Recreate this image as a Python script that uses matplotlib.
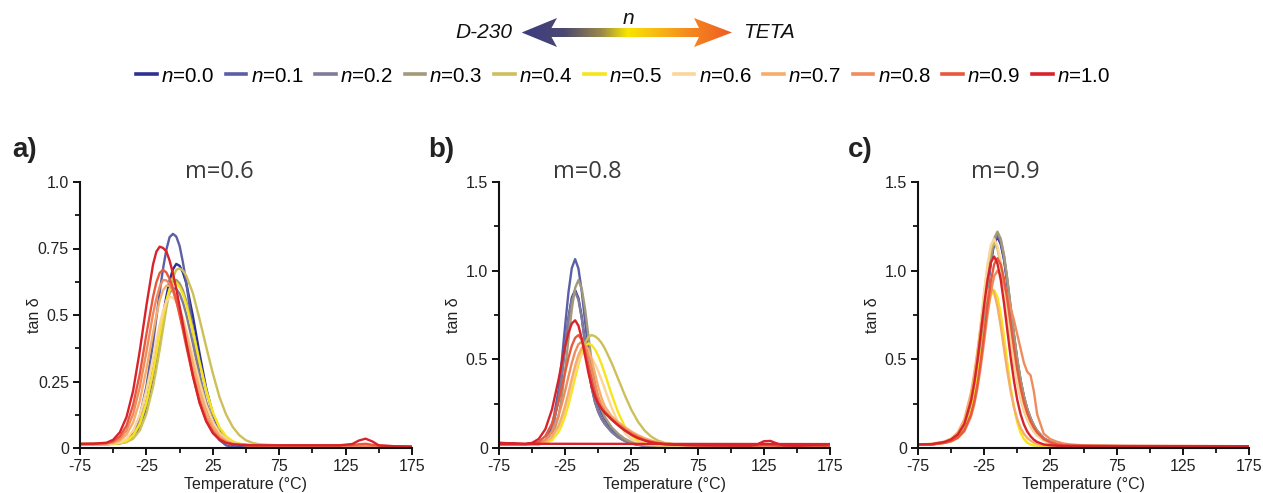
import matplotlib
matplotlib.use("Agg")
import numpy as np
import matplotlib.pyplot as plt
from matplotlib.colors import LinearSegmentedColormap
from matplotlib.patches import Polygon
from matplotlib.lines import Line2D

plt.rcParams['font.family'] = ['Liberation Sans', 'DejaVu Sans']
plt.rcParams['mathtext.fontset'] = 'custom'
plt.rcParams['mathtext.rm'] = 'Liberation Sans'
plt.rcParams['mathtext.it'] = 'Liberation Sans:italic'

# ---------------- data ----------------
n_values = ['0.0', '0.1', '0.2', '0.3', '0.4', '0.5', '0.6', '0.7', '0.8', '0.9', '1.0']
n_colors = ['#2e3192', '#5c5fa5', '#7f7b99', '#a39a7c', '#cdbf5a', '#f6e51b',
            '#fbd59a', '#f6ad6b', '#f08b5e', '#e8583c', '#d9232b']

x_ticks = [-75, -25, 25, 75, 125, 175]
x_minor = [-50, 0, 50, 100, 150]

# m = 0.6
temp_a = [-75, -65, -55, -50, -45, -40, -35, -30, -25, -20, -17.5, -15, -12.5, -10, -7.5, -5, -2.5,
          0, 2.5, 5, 10, 15, 20, 25, 30, 35, 40, 45, 50, 55, 60, 70, 80, 100, 120, 130, 135, 140,
          145, 150, 160, 175]
m06_n00 = [0.015, 0.015, 0.015, 0.016, 0.018, 0.024, 0.041, 0.078, 0.152, 0.267,
           0.34, 0.419, 0.496, 0.569, 0.63, 0.672, 0.692, 0.685, 0.66, 0.62,
           0.496, 0.356, 0.225, 0.128, 0.064, 0.029, 0.011, 0.004,
           0.002, 0.002, 0.002, 0.002, 0.002, 0.002, 0.002, 0.002, 0.002, 0.002, 0.002, 0.002, 0.002, 0.002]
m06_n01 = [0.015, 0.015, 0.015, 0.016, 0.019, 0.03, 0.057, 0.119, 0.231, 0.395,
           0.489, 0.586, 0.673, 0.745, 0.793, 0.805, 0.795, 0.76, 0.698, 0.622,
           0.445, 0.278, 0.152, 0.072, 0.03, 0.01, 0.004, 0.002,
           0.002, 0.002, 0.002, 0.002, 0.002, 0.002, 0.002, 0.002, 0.002, 0.002, 0.002, 0.002, 0.002, 0.002]
m06_n02 = [0.015, 0.015, 0.015, 0.016, 0.019, 0.028, 0.05, 0.095, 0.174, 0.292,
           0.359, 0.426, 0.491, 0.546, 0.584, 0.60, 0.598, 0.58, 0.547, 0.503,
           0.393, 0.273, 0.174, 0.101, 0.055, 0.03, 0.018, 0.013,
           0.011, 0.01, 0.01, 0.01, 0.009, 0.009, 0.008, 0.008, 0.008, 0.008, 0.007, 0.007, 0.006, 0.005]
m06_n03 = [0.015, 0.015, 0.015, 0.016, 0.018, 0.026, 0.045, 0.086, 0.164, 0.278,
           0.348, 0.421, 0.49, 0.551, 0.599, 0.625, 0.632, 0.619, 0.593, 0.552,
           0.446, 0.326, 0.217, 0.13, 0.074, 0.041, 0.023, 0.015,
           0.012, 0.011, 0.01, 0.01, 0.009, 0.009, 0.008, 0.008, 0.008, 0.008, 0.007, 0.007, 0.006, 0.005]
m06_n04 = [0.015, 0.015, 0.015, 0.015, 0.017, 0.022, 0.035, 0.066, 0.129, 0.231,
           0.298, 0.37, 0.449, 0.525, 0.59, 0.64, 0.67, 0.675, 0.667, 0.648,
           0.582, 0.485, 0.381, 0.281, 0.192, 0.126, 0.079, 0.048,
           0.029, 0.019, 0.014, 0.011, 0.01, 0.009, 0.008, 0.008, 0.008, 0.008, 0.007, 0.007, 0.006, 0.005]
m06_n05 = [0.015, 0.015, 0.015, 0.016, 0.019, 0.027, 0.047, 0.091, 0.171, 0.287,
           0.356, 0.427, 0.495, 0.553, 0.597, 0.615, 0.62, 0.605, 0.579, 0.54,
           0.439, 0.321, 0.217, 0.135, 0.078, 0.044, 0.025, 0.016,
           0.013, 0.011, 0.01, 0.01, 0.009, 0.009, 0.008, 0.008, 0.008, 0.008, 0.007, 0.007, 0.006, 0.005]
m06_n06 = [0.015, 0.015, 0.015, 0.017, 0.022, 0.035, 0.065, 0.123, 0.217, 0.338,
           0.403, 0.464, 0.515, 0.55, 0.568, 0.565, 0.549, 0.524, 0.488, 0.445,
           0.347, 0.249, 0.162, 0.099, 0.058, 0.033, 0.02, 0.014,
           0.012, 0.011, 0.01, 0.01, 0.009, 0.009, 0.008, 0.008, 0.008, 0.008, 0.007, 0.007, 0.006, 0.005]
m06_n07 = [0.015, 0.015, 0.016, 0.019, 0.028, 0.05, 0.096, 0.177, 0.296, 0.433,
           0.499, 0.555, 0.593, 0.61, 0.61, 0.593, 0.565, 0.526, 0.48, 0.428,
           0.32, 0.22, 0.138, 0.082, 0.047, 0.027, 0.017, 0.013,
           0.011, 0.01, 0.01, 0.01, 0.009, 0.009, 0.008, 0.008, 0.008, 0.008, 0.007, 0.007, 0.006, 0.005]
m06_n08 = [0.015, 0.015, 0.017, 0.022, 0.035, 0.066, 0.127, 0.228, 0.361, 0.504,
           0.562, 0.606, 0.632, 0.63, 0.617, 0.59, 0.553, 0.506, 0.454, 0.398,
           0.287, 0.189, 0.116, 0.068, 0.039, 0.023, 0.015, 0.012,
           0.011, 0.01, 0.01, 0.01, 0.009, 0.009, 0.008, 0.008, 0.008, 0.008, 0.007, 0.007, 0.006, 0.005]
m06_n09 = [0.015, 0.015, 0.018, 0.025, 0.044, 0.084, 0.162, 0.278, 0.428, 0.568,
           0.623, 0.658, 0.67, 0.66, 0.636, 0.60, 0.555, 0.50, 0.443, 0.383,
           0.27, 0.173, 0.104, 0.06, 0.034, 0.02, 0.014, 0.012,
           0.011, 0.01, 0.01, 0.01, 0.01, 0.01, 0.01, 0.011, 0.014, 0.016, 0.012, 0.009, 0.007, 0.005]
m06_n10 = [0.015, 0.016, 0.02, 0.031, 0.059, 0.116, 0.215, 0.365, 0.535, 0.69,
           0.738, 0.757, 0.752, 0.74, 0.704, 0.656, 0.598, 0.533, 0.465, 0.397,
           0.272, 0.17, 0.10, 0.056, 0.031, 0.019, 0.014, 0.012,
           0.011, 0.01, 0.01, 0.01, 0.01, 0.01, 0.01, 0.015, 0.028, 0.035, 0.025, 0.01, 0.007, 0.005]

# m = 0.8
temp_b = [-75, -65, -55, -50, -45, -40, -35, -30, -27.5, -25, -22.5, -20, -17.5, -15, -12.5, -10,
          -7.5, -5, -2.5, 0, 2.5, 5, 10, 15, 20, 25, 30, 35, 40, 45, 50, 60, 70, 80, 100,
          115, 120, 125, 130, 135, 140, 150, 175]
m08_n00 = [0.02, 0.02, 0.02, 0.02, 0.022, 0.037, 0.10, 0.277, 0.418, 0.58, 0.736, 0.848, 0.89, 0.845,
           0.738, 0.597, 0.458, 0.344, 0.261, 0.205, 0.165, 0.136, 0.092, 0.061, 0.04, 0.026, 0.018,
           0.014, 0.012, 0.011, 0.01, 0.01, 0.01, 0.01, 0.01, 0.01, 0.01, 0.01, 0.01, 0.01, 0.01, 0.01, 0.01]
m08_n01 = [0.02, 0.02, 0.02, 0.02, 0.023, 0.04, 0.116, 0.328, 0.499, 0.693, 0.88, 1.015, 1.065, 1.012,
           0.883, 0.714, 0.547, 0.41, 0.311, 0.243, 0.196, 0.16, 0.108, 0.072, 0.046, 0.029, 0.019,
           0.014, 0.012, 0.011, 0.01, 0.01, 0.01, 0.01, 0.01, 0.01, 0.01, 0.01, 0.01, 0.01, 0.01, 0.01, 0.01]
m08_n02 = [0.02, 0.02, 0.02, 0.02, 0.022, 0.037, 0.099, 0.274, 0.414, 0.574, 0.728, 0.839, 0.88, 0.836,
           0.73, 0.59, 0.453, 0.34, 0.258, 0.203, 0.163, 0.135, 0.091, 0.06, 0.04, 0.026, 0.018,
           0.014, 0.012, 0.011, 0.01, 0.01, 0.01, 0.01, 0.01, 0.01, 0.01, 0.01, 0.01, 0.01, 0.01, 0.01, 0.01]
m08_n03 = [0.02, 0.02, 0.02, 0.02, 0.021, 0.027, 0.061, 0.179, 0.293, 0.445, 0.617, 0.783, 0.903, 0.947,
           0.899, 0.785, 0.635, 0.487, 0.365, 0.277, 0.217, 0.174, 0.118, 0.08, 0.052, 0.034, 0.022,
           0.016, 0.013, 0.011, 0.01, 0.01, 0.01, 0.01, 0.01, 0.01, 0.01, 0.01, 0.01, 0.01, 0.01, 0.01, 0.01]
m08_n04 = [0.02, 0.02, 0.02, 0.022, 0.025, 0.037, 0.063, 0.117, 0.158, 0.209, 0.269, 0.337, 0.409, 0.479,
           0.543, 0.593, 0.626, 0.637, 0.63, 0.615, 0.592, 0.56, 0.481, 0.39, 0.298, 0.215, 0.148,
           0.098, 0.064, 0.042, 0.029, 0.018, 0.015, 0.014, 0.013, 0.012, 0.012, 0.012, 0.012, 0.012,
           0.012, 0.012, 0.01]
m08_n05 = [0.02, 0.02, 0.02, 0.02, 0.022, 0.027, 0.045, 0.09, 0.129, 0.181, 0.245, 0.319, 0.397, 0.472,
           0.534, 0.575, 0.59, 0.58, 0.556, 0.519, 0.472, 0.418, 0.303, 0.2, 0.121, 0.07, 0.04,
           0.025, 0.019, 0.016, 0.015, 0.014, 0.013, 0.013, 0.012, 0.012, 0.012, 0.012, 0.012, 0.012,
           0.012, 0.011, 0.01]
m08_n06 = [0.02, 0.02, 0.02, 0.021, 0.023, 0.032, 0.059, 0.119, 0.167, 0.225, 0.292, 0.364, 0.432, 0.489,
           0.526, 0.54, 0.53, 0.508, 0.474, 0.432, 0.383, 0.331, 0.229, 0.144, 0.085, 0.049, 0.03,
           0.021, 0.017, 0.016, 0.015, 0.014, 0.013, 0.013, 0.012, 0.012, 0.012, 0.012, 0.012, 0.012,
           0.012, 0.011, 0.01]
m08_n07 = [0.02, 0.02, 0.02, 0.021, 0.024, 0.033, 0.062, 0.127, 0.178, 0.241, 0.313, 0.391, 0.464, 0.525,
           0.565, 0.58, 0.556, 0.497, 0.42, 0.343, 0.28, 0.234, 0.18, 0.146, 0.118, 0.093, 0.072,
           0.055, 0.042, 0.032, 0.026, 0.019, 0.016, 0.015, 0.014, 0.013, 0.013, 0.013, 0.013, 0.013,
           0.013, 0.013, 0.012]
m08_n08 = [0.02, 0.02, 0.02, 0.022, 0.027, 0.046, 0.091, 0.184, 0.249, 0.324, 0.404, 0.48, 0.543, 0.585,
           0.60, 0.575, 0.514, 0.434, 0.355, 0.289, 0.242, 0.209, 0.167, 0.137, 0.109, 0.084, 0.064,
           0.048, 0.037, 0.029, 0.023, 0.018, 0.016, 0.015, 0.014, 0.013, 0.013, 0.013, 0.013, 0.013,
           0.013, 0.013, 0.012]
m08_n09 = [0.02, 0.02, 0.021, 0.024, 0.035, 0.067, 0.138, 0.264, 0.343, 0.428, 0.509, 0.577, 0.621, 0.637,
           0.611, 0.546, 0.461, 0.377, 0.307, 0.257, 0.221, 0.197, 0.16, 0.129, 0.101, 0.078, 0.059,
           0.044, 0.034, 0.027, 0.022, 0.018, 0.016, 0.015, 0.014, 0.013, 0.014, 0.018, 0.016, 0.013,
           0.013, 0.012, 0.012]
# the n = 1.0 record closes back to its starting temperature
temp_b_n10 = temp_b + [-75]
m08_n10 = [0.03, 0.025, 0.022, 0.029, 0.051, 0.106, 0.217, 0.387, 0.483, 0.575, 0.651, 0.702, 0.72, 0.69,
           0.617, 0.52, 0.425, 0.346, 0.289, 0.249, 0.221, 0.199, 0.162, 0.128, 0.099, 0.074, 0.055,
           0.042, 0.032, 0.025, 0.021, 0.018, 0.016, 0.015, 0.014, 0.014, 0.02, 0.038, 0.04, 0.025,
           0.015, 0.013, 0.022, 0.024]

# m = 0.9
temp_c = [-75, -65, -55, -50, -45, -40, -35, -32.5, -30, -27.5, -25, -22.5, -20, -17.5, -15, -12.5,
          -10, -7.5, -5, -2.5, 0, 2.5, 5, 7.5, 10, 12.5, 15, 20, 25, 30, 35, 40, 50, 60, 80, 100,
          125, 150, 175]
m09_n00 = [0.02, 0.02, 0.031, 0.041, 0.063, 0.109, 0.207, 0.29, 0.404, 0.549, 0.717, 0.892, 1.045, 1.153,
           1.19, 1.149, 1.06, 0.927, 0.775, 0.625, 0.486, 0.375, 0.286, 0.217, 0.165, 0.125, 0.095,
           0.054, 0.033, 0.021, 0.015, 0.012, 0.011, 0.01, 0.01, 0.01, 0.01, 0.009, 0.009]
m09_n01 = [0.02, 0.02, 0.031, 0.042, 0.063, 0.109, 0.209, 0.292, 0.407, 0.553, 0.723, 0.899, 1.054, 1.163,
           1.20, 1.16, 1.07, 0.935, 0.78, 0.63, 0.49, 0.378, 0.288, 0.218, 0.166, 0.126, 0.095,
           0.054, 0.033, 0.021, 0.015, 0.012, 0.011, 0.011, 0.01, 0.01, 0.01, 0.01, 0.009]
m09_n02 = [0.02, 0.02, 0.031, 0.041, 0.064, 0.11, 0.21, 0.295, 0.41, 0.558, 0.729, 0.907, 1.062, 1.172,
           1.21, 1.169, 1.079, 0.943, 0.788, 0.636, 0.496, 0.382, 0.29, 0.22, 0.168, 0.127, 0.096,
           0.055, 0.034, 0.022, 0.016, 0.013, 0.012, 0.011, 0.01, 0.01, 0.009, 0.008, 0.008]
m09_n03 = [0.02, 0.02, 0.031, 0.042, 0.064, 0.111, 0.212, 0.297, 0.414, 0.562, 0.735, 0.914, 1.071, 1.182,
           1.22, 1.18, 1.088, 0.952, 0.796, 0.643, 0.50, 0.385, 0.293, 0.222, 0.169, 0.128, 0.097,
           0.055, 0.034, 0.022, 0.016, 0.013, 0.012, 0.011, 0.01, 0.01, 0.009, 0.008, 0.008]
m09_n04 = [0.02, 0.021, 0.035, 0.05, 0.08, 0.144, 0.283, 0.394, 0.535, 0.699, 0.869, 1.019, 1.124, 1.16,
           1.122, 1.034, 0.905, 0.757, 0.611, 0.478, 0.367, 0.279, 0.212, 0.161, 0.123, 0.093, 0.071,
           0.042, 0.026, 0.017, 0.014, 0.013, 0.012, 0.011, 0.01, 0.01, 0.01, 0.009, 0.009]
m09_n05 = [0.02, 0.02, 0.029, 0.037, 0.057, 0.101, 0.204, 0.289, 0.398, 0.525, 0.659, 0.778, 0.86, 0.89,
           0.85, 0.758, 0.627, 0.481, 0.343, 0.229, 0.143, 0.086, 0.05, 0.03, 0.02, 0.015, 0.013,
           0.012, 0.011, 0.011, 0.011, 0.01, 0.01, 0.01, 0.01, 0.01, 0.009, 0.009, 0.009]
m09_n06 = [0.02, 0.021, 0.035, 0.051, 0.081, 0.146, 0.288, 0.401, 0.544, 0.711, 0.884, 1.036, 1.143, 1.18,
           1.141, 1.052, 0.92, 0.77, 0.621, 0.486, 0.373, 0.284, 0.215, 0.164, 0.125, 0.094, 0.072,
           0.043, 0.026, 0.017, 0.014, 0.013, 0.012, 0.011, 0.01, 0.01, 0.01, 0.009, 0.009]
m09_n07 = [0.02, 0.024, 0.036, 0.053, 0.088, 0.162, 0.312, 0.422, 0.55, 0.683, 0.80, 0.882, 0.91, 0.876,
           0.798, 0.686, 0.557, 0.431, 0.319, 0.23, 0.162, 0.113, 0.08, 0.057, 0.041, 0.031, 0.024,
           0.016, 0.013, 0.012, 0.011, 0.011, 0.01, 0.01, 0.01, 0.01, 0.009, 0.009, 0.009]
m09_n08 = [0.02, 0.02, 0.029, 0.038, 0.056, 0.094, 0.177, 0.246, 0.341, 0.463, 0.604, 0.75, 0.878, 0.969,
           1.0, 0.975, 0.92, 0.86, 0.79, 0.72, 0.64, 0.56, 0.48, 0.43, 0.41, 0.32, 0.19,
           0.08, 0.05, 0.035, 0.025, 0.02, 0.015, 0.014, 0.013, 0.012, 0.012, 0.011, 0.01]
m09_n09 = [0.02, 0.02, 0.029, 0.039, 0.059, 0.10, 0.188, 0.263, 0.364, 0.495, 0.646, 0.802, 0.94, 1.036,
           1.07, 1.035, 0.954, 0.835, 0.699, 0.564, 0.441, 0.339, 0.258, 0.196, 0.15, 0.114, 0.087,
           0.05, 0.031, 0.02, 0.015, 0.013, 0.012, 0.012, 0.011, 0.011, 0.01, 0.01, 0.01]
m09_n10 = [0.02, 0.021, 0.034, 0.048, 0.076, 0.136, 0.265, 0.368, 0.499, 0.652, 0.81, 0.949, 1.046, 1.08,
           1.04, 0.948, 0.814, 0.661, 0.51, 0.378, 0.27, 0.19, 0.133, 0.093, 0.066, 0.047, 0.034,
           0.02, 0.016, 0.013, 0.012, 0.012, 0.011, 0.01, 0.01, 0.01, 0.01, 0.01, 0.01]

panels = [
    dict(title='m=0.6', letter='a)', ymax=1.0,
         yticks=[0, 0.25, 0.5, 0.75, 1.0], ylabels=['0', '0.25', '0.5', '0.75', '1.0'],
         yminor=[0.125, 0.375, 0.625, 0.875],
         temps=[temp_a] * 11,
         series=[m06_n00, m06_n01, m06_n02, m06_n03, m06_n04, m06_n05,
                 m06_n06, m06_n07, m06_n08, m06_n09, m06_n10]),
    dict(title='m=0.8', letter='b)', ymax=1.5,
         yticks=[0, 0.5, 1.0, 1.5], ylabels=['0', '0.5', '1.0', '1.5'],
         yminor=[0.25, 0.75, 1.25],
         temps=[temp_b] * 10 + [temp_b_n10],
         series=[m08_n00, m08_n01, m08_n02, m08_n03, m08_n04, m08_n05,
                 m08_n06, m08_n07, m08_n08, m08_n09, m08_n10]),
    dict(title='m=0.9', letter='c)', ymax=1.5,
         yticks=[0, 0.5, 1.0, 1.5], ylabels=['0', '0.5', '1.0', '1.5'],
         yminor=[0.25, 0.75, 1.25],
         temps=[temp_c] * 11,
         series=[m09_n00, m09_n01, m09_n02, m09_n03, m09_n04, m09_n05,
                 m09_n06, m09_n07, m09_n08, m09_n09, m09_n10]),
]

# ---------------- figure ----------------
W, H = 1263, 493
fig = plt.figure(figsize=(W / 100, H / 100), dpi=100)


def px_axes(left, top, right, bottom):
    return fig.add_axes([left / W, 1 - bottom / H, (right - left) / W, (bottom - top) / H])


axes_px = [(80, 182, 412, 448), (499, 182, 830, 448), (918, 182, 1249, 448)]
title_x = [219, 587, 1005]
letter_x = [12, 428, 848]

handles = []
for k, (panel, box) in enumerate(zip(panels, axes_px)):
    ax = px_axes(*box)
    for i in range(11):
        ax.plot(panel['temps'][i], panel['series'][i], color=n_colors[i], lw=1.7,
                solid_joinstyle='round')
        if k == 0:
            handles.append(Line2D([], [], color=n_colors[i], lw=2.6))
    ax.set_xlim(-75, 175)
    ax.set_ylim(0, panel['ymax'])
    ax.set_xticks(x_ticks)
    ax.set_xticklabels([str(t) for t in x_ticks])
    ax.set_xticks(x_minor, minor=True)
    ax.set_yticks(panel['yticks'])
    ax.set_yticklabels(panel['ylabels'])
    ax.set_yticks(panel['yminor'], minor=True)
    for s in ('top', 'right'):
        ax.spines[s].set_visible(False)
    for s in ('left', 'bottom'):
        ax.spines[s].set_linewidth(1.5)
        ax.spines[s].set_color('#111111')
    ax.tick_params(which='major', direction='out', length=5, width=1.4, labelsize=11.5,
                   pad=3, colors='#111111', labelcolor='#222222')
    ax.tick_params(which='minor', direction='out', length=3.5, width=1.3, colors='#111111')
    ax.set_xlabel('Temperature (°C)', fontsize=11.5, color='#222222')
    ax.xaxis.set_label_coords(0.5, -0.108)
    ax.set_ylabel('tan δ', fontsize=11.5, color='#222222')
    ax.yaxis.set_label_coords(-0.115, 0.5)
    ax.patch.set_alpha(0)

    fig.text(title_x[k] / W, 1 - 172 / H, panel['title'], ha='center', va='center',
             fontsize=17, family=['Open Sans', 'DejaVu Sans'], color='#3a3a3a')
    fig.text(letter_x[k] / W, 1 - 150 / H, panel['letter'], ha='left', va='center',
             fontsize=20, fontweight='bold', color='#222222')

fig.legend(handles, [r'$n$=' + v for v in n_values], loc='center',
           bbox_to_anchor=(623 / W, 1 - 76 / H), ncol=11, frameon=False, fontsize=14.8,
           handlelength=1.0, handletextpad=0.2, columnspacing=0.58, borderpad=0)

# ---------------- gradient double arrow ----------------
arr_ax = fig.add_axes([0, 0, 1, 1], zorder=5)
arr_ax.set_xlim(0, W)
arr_ax.set_ylim(H, 0)
arr_ax.axis('off')
arrow_shape = Polygon([(521.7, 32.5), (557, 18), (551.5, 28), (699, 28), (694, 18),
                       (732, 32.5), (694, 47), (699, 37), (551.5, 37), (557, 47)],
                      closed=True, facecolor='none', edgecolor='none')
arr_ax.add_patch(arrow_shape)
grad_cmap = LinearSegmentedColormap.from_list(
    'amine', [(0.0, '#3b3c82'), (0.2, '#4c4870'), (0.38, '#9c8a48'), (0.5, '#f7e600'),
              (0.62, '#f8c012'), (0.8, '#f4881f'), (1.0, '#ef5a25')])
grad = np.linspace(0, 1, 256).reshape(1, -1)
img = arr_ax.imshow(grad, cmap=grad_cmap, extent=(521.7, 732, 47, 18), aspect='auto',
                    interpolation='bilinear')
img.set_clip_path(arrow_shape)

fig.text(512 / W, 1 - 33 / H, 'D-230', ha='right', va='center', fontsize=15, style='italic',
         color='#111111')
fig.text(743 / W, 1 - 33 / H, 'TETA', ha='left', va='center', fontsize=15, style='italic',
         color='#111111')
fig.text(628 / W, 1 - 19 / H, 'n', ha='center', va='center', fontsize=15, style='italic',
         color='#111111')

fig.savefig('out.png', dpi=100)
